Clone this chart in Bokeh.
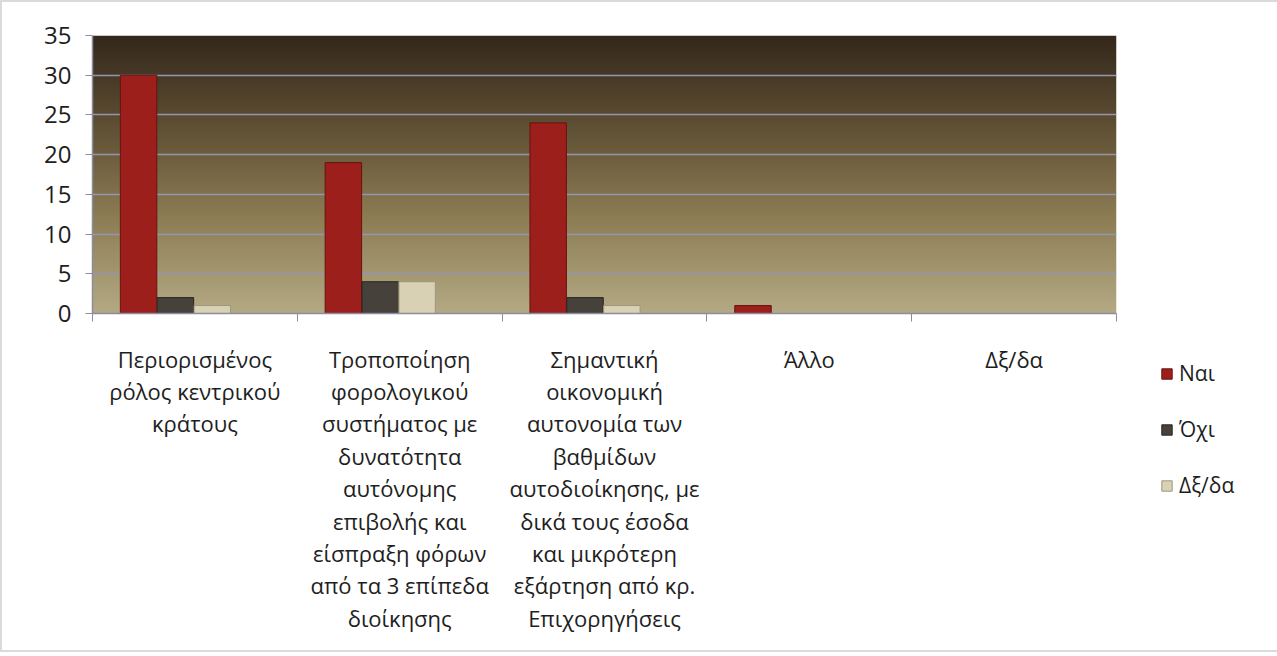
import numpy as np
from bokeh.plotting import figure
from bokeh.models import Range1d, FixedTicker, Legend, LegendItem
from bokeh.embed import file_html
from bokeh.resources import INLINE

categories = [
    "Περιορισμένος\nρόλος κεντρικού\nκράτους",
    "Τροποποίηση\nφορολογικού\nσυστήματος με\nδυνατότητα\nαυτόνομης\nεπιβολής και\nείσπραξη φόρων\nαπό τα 3 επίπεδα\nδιοίκησης",
    "Σημαντική\nοικονομική\nαυτονομία των\nβαθμίδων\nαυτοδιοίκησης, με\nδικά τους έσοδα\nκαι μικρότερη\nεξάρτηση από κρ.\nΕπιχορηγήσεις",
    "Άλλο",
    "Δξ/δα",
]
series_names = ["Ναι", "Όχι", "Δξ/δα"]
nai = [30, 19, 24, 1, 0]
ochi = [2, 4, 2, 0, 0]
dxda = [1, 4, 1, 0, 0]
y_ticks = [0, 5, 10, 15, 20, 25, 30, 35]

FONT = "Open Sans"
n = len(categories)

p = figure(
    frame_width=1024, frame_height=278,
    min_border_left=90, min_border_right=150, min_border_top=33, min_border_bottom=337,
    x_range=Range1d(0, n), y_range=Range1d(0, 35),
    output_backend="svg", toolbar_location=None,
)
p.background_fill_color = "white"
p.border_fill_color = "white"
p.outline_line_color = None
p.styles = {"border": "2px solid #dadada", "box-sizing": "border-box"}

# background gradient of the plot area
rows = 256
t = np.linspace(0, 1, rows)  # 0 bottom -> 1 top
stops_t = [0.0, 0.35, 0.7, 1.0]
stops_c = np.array([[180, 170, 132], [140, 124, 84], [92, 76, 50], [52, 40, 28]], dtype=float)
rgb = np.stack([np.interp(t, stops_t, stops_c[:, k]) for k in range(3)], axis=1).astype(np.uint32)
img = np.empty((rows, 1), dtype=np.uint32)
view = img.view(dtype=np.uint8).reshape((rows, 1, 4))
view[:, 0, 0] = rgb[:, 0]
view[:, 0, 1] = rgb[:, 1]
view[:, 0, 2] = rgb[:, 2]
view[:, 0, 3] = 255
p.image_rgba(image=[img], x=0, y=0, dw=n, dh=35, level="image")

# grid
p.xgrid.grid_line_color = None
p.ygrid.ticker = FixedTicker(ticks=y_ticks)
p.ygrid.grid_line_color = "#9496ae"
p.ygrid.grid_line_width = 1.5

xs = np.arange(n)
w = 0.178
r1 = p.vbar(x=xs + 0.225, top=nai, width=w, fill_color="#9c1f1b", line_color="#6a1210", line_width=1)
r2 = p.vbar(x=xs + 0.405, top=ochi, width=w, fill_color="#46413a", line_color="#2a2622", line_width=1)
r3 = p.vbar(x=xs + 0.585, top=dxda, width=w, fill_color="#d8d1b4", line_color="#9e977c", line_width=1)

# y axis
ya = p.yaxis[0]
ya.ticker = FixedTicker(ticks=y_ticks)
ya.axis_line_color = "#8a8ca0"
ya.axis_line_width = 1.5
ya.major_tick_line_color = "#8a8ca0"
ya.major_tick_out = 7
ya.major_tick_in = 0
ya.minor_tick_line_color = None
ya.major_label_text_font = FONT
ya.major_label_text_font_size = "24px"
ya.major_label_text_color = "#1e1e1e"
ya.major_label_standoff = 14

# x axis
xa = p.xaxis[0]
xa.ticker = FixedTicker(ticks=[i + 0.5 for i in range(n)], minor_ticks=list(range(n + 1)))
xa.major_label_overrides = {i + 0.5: categories[i] for i in range(n)}
xa.axis_line_color = "#8a8ca0"
xa.axis_line_width = 1.5
xa.major_tick_line_color = None
xa.minor_tick_line_color = "#8a8ca0"
xa.minor_tick_out = 8
xa.minor_tick_in = 0
xa.major_label_text_font = FONT
xa.major_label_text_font_size = "22px"
xa.major_label_text_color = "#1e1e1e"
xa.major_label_text_line_height = 1.08
xa.major_label_standoff = 22

legend = Legend(
    items=[LegendItem(label=series_names[0], renderers=[r1]),
           LegendItem(label=series_names[1], renderers=[r2]),
           LegendItem(label=series_names[2], renderers=[r3])],
    location=(44, -186),
    orientation="vertical",
    label_text_font=FONT, label_text_font_size="21px", label_text_color="#1e1e1e",
    glyph_width=13, glyph_height=13, label_height=20, label_standoff=6,
    spacing=28, padding=0, margin=0,
    border_line_color=None, background_fill_alpha=0,
)
p.add_layout(legend, "right")

open("out.html", "w").write(file_html(p, INLINE))
